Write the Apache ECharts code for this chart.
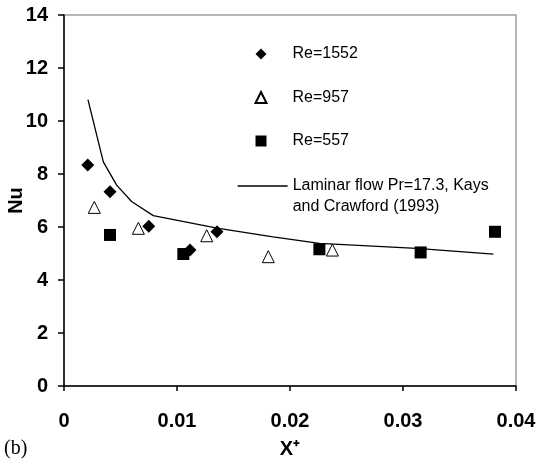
<!DOCTYPE html>
<html>
<head>
<meta charset="utf-8">
<script src="https://cdn.jsdelivr.net/npm/echarts@6/dist/echarts.min.js"></script>
<style>
  html, body { margin: 0; padding: 0; background: #fff; }
  #chart { width: 546px; height: 464px; }
</style>
</head>
<body>
<div id="chart"></div>
<script>
// Re=1552 (filled diamonds)
const re1552X = [0.0021, 0.00407, 0.0075, 0.01115, 0.01354];
const re1552Y = [8.34, 7.33, 6.03, 5.13, 5.82];
// Re=957 (open triangles)
const re957X = [0.00268, 0.00658, 0.01263, 0.01808, 0.02375];
const re957Y = [6.74, 5.95, 5.67, 4.88, 5.13];
// Re=557 (filled squares)
const re557X = [0.00407, 0.01056, 0.0226, 0.03156, 0.03814];
const re557Y = [5.70, 4.98, 5.16, 5.04, 5.82];
// laminar flow correlation
const lamX = [0.00212, 0.00348, 0.00466, 0.00598, 0.0079, 0.01354, 0.0185, 0.0226, 0.0312, 0.038];
const lamY = [10.81, 8.46, 7.58, 6.96, 6.43, 5.96, 5.63, 5.38, 5.19, 4.98];

const xTicks = [0, 0.01, 0.02, 0.03, 0.04];
const yTicks = [0, 2, 4, 6, 8, 10, 12, 14];

function pairs(xs, ys) {
    var out = [];
    for (var i = 0; i < xs.length; i++) {
        out.push([xs[i], ys[i]]);
    }
    return out;
}

const lamName = 'Laminar flow Pr=17.3, Kays\nand Crawford (1993)';
const font = 'Liberation Sans, Arial, sans-serif';

chart = echarts.init(document.getElementById('chart'));

option = {
    animation: false,
    grid: {
        left: 64, right: 30, top: 15, bottom: 78,
        outerBoundsMode: 'none',
        containLabel: false,
        show: true,
        borderColor: '#a0a0a0',
        borderWidth: 1.5
    },
    legend: [
        {
            // marker symbols, with a blank gap so the text lines up with the line legend
            orient: 'vertical',
            left: 249.5, top: 38.5,
            itemWidth: 11, itemHeight: 11, itemGap: 22.5,
            data: ['Re=1552', 'Re=957', 'Re=557'],
            formatter: function (name) { return '{g|}' + name; },
            textStyle: {
                fontFamily: font, fontSize: 16, color: '#000', lineHeight: 21,
                rich: { g: { width: 21 } }
            }
        },
        {
            orient: 'vertical',
            left: 232, top: 149.5,
            itemWidth: 50, itemHeight: 11,
            data: [lamName],
            itemStyle: { opacity: 0 },
            lineStyle: { color: '#000', width: 1.3, opacity: 1 },
            // leading blank line so the icon sits on the first text line
            formatter: function (name) { return '\n' + name; },
            textStyle: { fontFamily: font, fontSize: 16, color: '#000', lineHeight: 21 }
        }
    ],
    xAxis: {
        type: 'value',
        min: xTicks[0], max: xTicks[xTicks.length - 1], interval: 0.01,
        name: 'X\u207A',
        nameLocation: 'middle',
        nameGap: 53,
        nameTextStyle: { fontFamily: font, fontSize: 20, fontWeight: 'bold', color: '#000' },
        axisLine: { lineStyle: { color: '#000', width: 1.5 } },
        axisTick: { inside: false, length: 5, lineStyle: { color: '#000', width: 1.5 } },
        axisLabel: { margin: 25, fontFamily: font, fontSize: 20, fontWeight: 'bold', color: '#000' },
        splitLine: { show: false }
    },
    yAxis: {
        type: 'value',
        min: yTicks[0], max: yTicks[yTicks.length - 1], interval: 2,
        name: 'Nu',
        nameLocation: 'middle',
        nameGap: 38,
        nameMoveOverlap: false,
        nameTextStyle: { fontFamily: font, fontSize: 20, fontWeight: 'bold', color: '#000' },
        axisLine: { lineStyle: { color: '#000', width: 1.5 } },
        axisTick: { inside: false, length: 6, lineStyle: { color: '#000', width: 1.5 } },
        axisLabel: { margin: 16, fontFamily: font, fontSize: 20, fontWeight: 'bold', color: '#000' },
        splitLine: { show: false }
    },
    graphic: [
        {
            type: 'text',
            left: 4, top: 439,
            style: { text: '(b)', font: '20px "Liberation Serif", "Times New Roman", serif', fill: '#000' }
        }
    ],
    series: [
        {
            name: lamName,
            type: 'line',
            data: pairs(lamX, lamY),
            showSymbol: false,
            symbol: 'circle',
            symbolSize: 0,
            itemStyle: { color: '#000' },
            lineStyle: { color: '#000', width: 1.3 },
            z: 1
        },
        {
            name: 'Re=1552',
            type: 'scatter',
            data: pairs(re1552X, re1552Y),
            symbol: 'diamond',
            symbolSize: 13,
            itemStyle: { color: '#000', opacity: 1 },
            z: 3
        },
        {
            name: 'Re=957',
            type: 'scatter',
            data: pairs(re957X, re957Y),
            symbol: 'triangle',
            symbolSize: 12,
            itemStyle: { color: '#fff', borderColor: '#000', borderWidth: 1, opacity: 1 },
            z: 3
        },
        {
            name: 'Re=557',
            type: 'scatter',
            data: pairs(re557X, re557Y),
            symbol: 'rect',
            symbolSize: 12,
            itemStyle: { color: '#000', opacity: 1 },
            z: 3
        }
    ]
};

chart.setOption(option);
</script>
</body>
</html>
